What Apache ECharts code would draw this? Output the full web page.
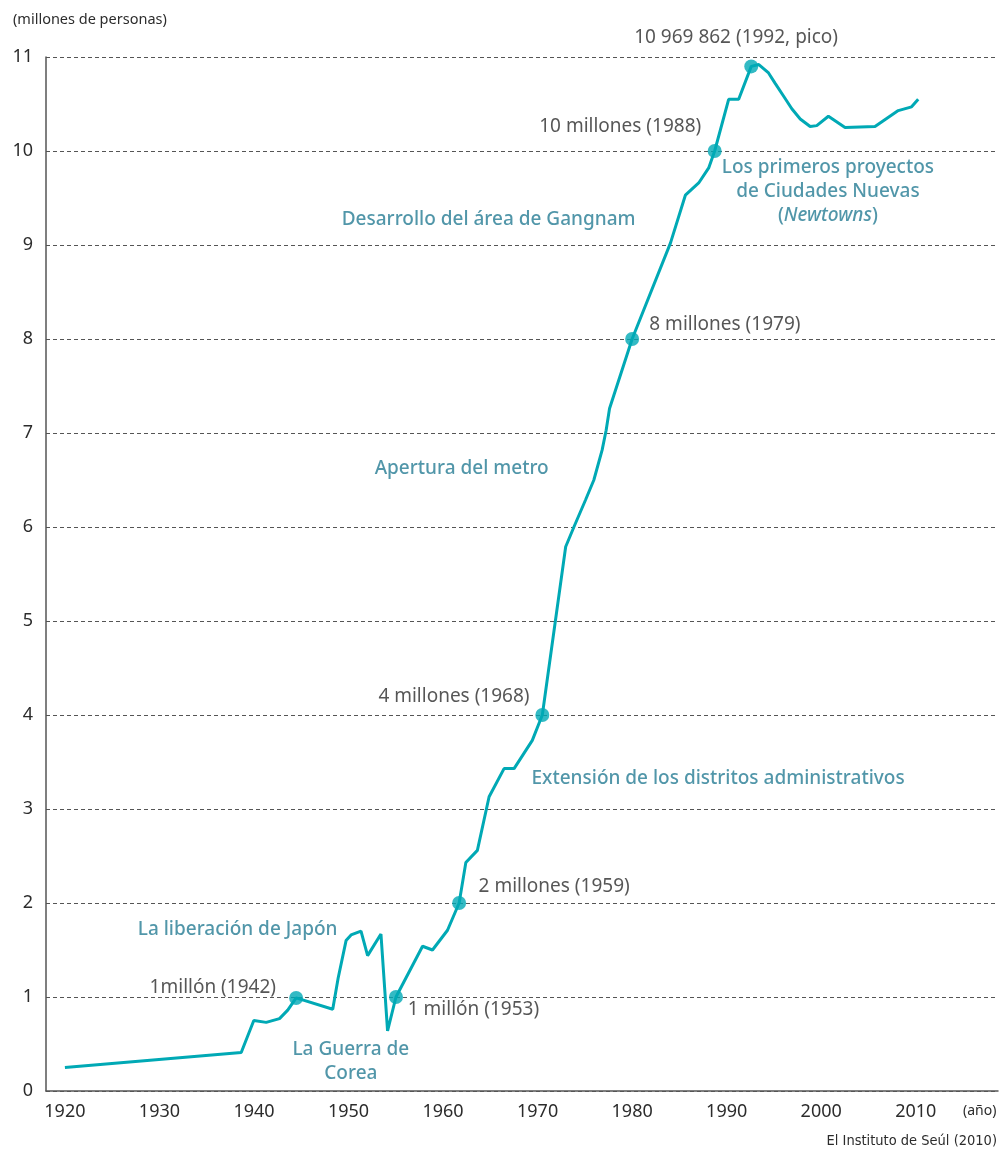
<!DOCTYPE html>
<html>
<head>
<meta charset="utf-8">
<script src="https://cdn.jsdelivr.net/npm/echarts@6/dist/echarts.min.js"></script>
<style>
html,body{margin:0;padding:0;background:#fff;}
#chart{width:1001px;height:1154px;}
</style>
</head>
<body>
<div id="chart"></div>
<script>
// Seoul population (millions): [axis year, value]
const populationLine = [
  [1920.0, 0.25], [1938.65, 0.41], [1939.98, 0.75], [1941.29, 0.73], [1942.70, 0.77],
  [1943.57, 0.86], [1944.46, 0.99], [1948.33, 0.87], [1948.9, 1.20], [1949.74, 1.60],
  [1950.27, 1.66], [1951.32, 1.70], [1952.02, 1.44], [1953.43, 1.67], [1954.13, 0.64],
  [1955.02, 1.00], [1957.83, 1.54], [1958.88, 1.50], [1960.47, 1.71], [1961.70, 2.00],
  [1962.41, 2.43], [1963.63, 2.56], [1964.87, 3.13], [1966.45, 3.43], [1967.51, 3.43],
  [1969.44, 3.73], [1970.50, 4.00], [1972.97, 5.79], [1973.84, 6.00], [1975.08, 6.29],
  [1975.95, 6.50], [1976.83, 6.82], [1977.25, 7.03], [1977.61, 7.26], [1980.00, 8.00],
  [1984.05, 9.02], [1985.63, 9.53], [1987.04, 9.66], [1988.10, 9.82], [1988.73, 10.00],
  [1990.21, 10.55], [1991.27, 10.55], [1992.60, 10.90], [1993.40, 10.92], [1994.43, 10.83],
  [1995.13, 10.72], [1996.01, 10.585], [1996.89, 10.45], [1997.78, 10.34], [1998.83, 10.26],
  [1999.53, 10.27], [2000.76, 10.37], [2002.52, 10.25], [2005.69, 10.26], [2008.15, 10.43],
  [2009.56, 10.47], [2010.26, 10.55]
];

// Highlighted milestones on the line
const milestonePoints = [
  [1944.46, 0.99], [1955.02, 1.00], [1961.70, 2.00], [1970.50, 4.00],
  [1980.00, 8.00], [1988.73, 10.00], [1992.60, 10.90]
];

// Axis tick labels
const xTickLabels = [1920, 1930, 1940, 1950, 1960, 1970, 1980, 1990, 2000, 2010];
const yTickLabels = [0, 1, 2, 3, 4, 5, 6, 7, 8, 9, 10, 11];

// Annotation texts and their anchors (data coordinates)
const valueNotes = [
  { text: '10 969 862 (1992, pico)', at: [1991.05, 11.20], align: 'center' },
  { text: '10 millones (1988)', at: [1987.36, 10.255], align: 'right' },
  { text: '8 millones (1979)', at: [1981.87, 8.149], align: 'left' },
  { text: '4 millones (1968)', at: [1969.20, 4.191], align: 'right' },
  { text: '2 millones (1959)', at: [1963.81, 2.170], align: 'left' },
  { text: '1millón (1942)', at: [1942.38, 1.096], align: 'right' },
  { text: '1 millón (1953)', at: [1956.32, 0.862], align: 'left' }
];
const eventNotes = [
  { text: 'Los primeros proyectos\nde Ciudades Nuevas\n({i|Newtowns})', at: [2000.76, 9.564], align: 'center' },
  { text: 'Desarrollo del área de Gangnam', at: [1964.87, 9.266], align: 'center' },
  { text: 'Apertura del metro', at: [1962.02, 6.617], align: 'center' },
  { text: 'Extensión de los distritos administrativos', at: [1969.41, 3.319], align: 'left' },
  { text: 'La liberación de Japón', at: [1938.32, 1.713], align: 'center' },
  { text: 'La Guerra de\nCorea', at: [1950.30, 0.309], align: 'center' }
];

const FONT = '"Noto Sans", "Open Sans", sans-serif';
const LINE_COLOR = '#00a9b5';
const EVENT_COLOR = '#267c93';
const TEXT_COLOR = '#2c2c2c';

function noteData(list, color, size, weight) {
  return list.map(n => ({
    value: n.at,
    label: {
      show: true,
      formatter: n.text,
      position: [0, 0],
      align: n.align,
      verticalAlign: 'middle',
      color: color,
      fontSize: size,
      fontWeight: weight,
      fontFamily: FONT,
      lineHeight: 24,
      rich: { i: { fontStyle: 'italic', color: color, fontSize: size, fontWeight: weight, fontFamily: FONT, lineHeight: 24 } }
    }
  }));
}

const chart = echarts.init(document.getElementById('chart'), null, { renderer: 'canvas' });
chart.setOption({
  animation: false,
  backgroundColor: '#ffffff',
  grid: { left: 46, right: 1, top: 57, bottom: 63, containLabel: false },
  xAxis: {
    type: 'value',
    min: 1918,
    max: 2018.7,
    interval: 2,
    axisLine: { show: true, lineStyle: { color: '#555', width: 1.5 } },
    axisTick: { show: false },
    splitLine: { show: false },
    axisLabel: {
      margin: 12,
      fontSize: 18,
      color: TEXT_COLOR,
      fontFamily: FONT,
      formatter: v => xTickLabels.indexOf(Math.round(v * 1000) / 1000) >= 0 ? String(v) : ''
    }
  },
  yAxis: {
    type: 'value',
    min: 0,
    max: 11,
    interval: 1,
    axisLine: { show: true, lineStyle: { color: '#555', width: 1.5 } },
    axisTick: { show: false },
    splitLine: { show: true, lineStyle: { color: '#555', type: [4, 3], width: 1 } },
    axisLabel: {
      margin: 13,
      fontSize: 18,
      color: TEXT_COLOR,
      fontFamily: FONT,
      formatter: v => yTickLabels.indexOf(v) >= 0 ? String(v) : ''
    }
  },
  graphic: [
    { type: 'text', left: 13, top: 12, style: { text: '(millones de personas)', fontSize: 14.5, fill: TEXT_COLOR, fontFamily: FONT } },
    { type: 'text', left: 963, top: 1104, style: { text: '(año)', fontSize: 14, fill: TEXT_COLOR, fontFamily: FONT } },
    { type: 'text', right: 4, top: 1134, style: { text: 'El Instituto de Seúl (2010)', fontSize: 14.5, fill: TEXT_COLOR, fontFamily: '"Liberation Sans Narrow", "DejaVu Sans Condensed", sans-serif' } }
  ],
  series: [
    {
      type: 'line',
      data: populationLine,
      symbol: 'none',
      lineStyle: { color: LINE_COLOR, width: 3 },
      z: 3,
      silent: true
    },
    {
      type: 'scatter',
      data: milestonePoints,
      symbol: 'circle',
      symbolSize: 14,
      itemStyle: { color: LINE_COLOR },
      z: 4,
      clip: false,
      silent: true
    },
    {
      type: 'scatter',
      data: noteData(valueNotes, TEXT_COLOR, 19, 'normal'),
      symbolSize: 1,
      itemStyle: { color: 'rgba(0,0,0,0)' },
      z: 5,
      clip: false,
      silent: true
    },
    {
      type: 'scatter',
      data: noteData(eventNotes, EVENT_COLOR, 19, 500),
      symbolSize: 1,
      itemStyle: { color: 'rgba(0,0,0,0)' },
      z: 5,
      clip: false,
      silent: true
    }
  ]
});
</script>
</body>
</html>
